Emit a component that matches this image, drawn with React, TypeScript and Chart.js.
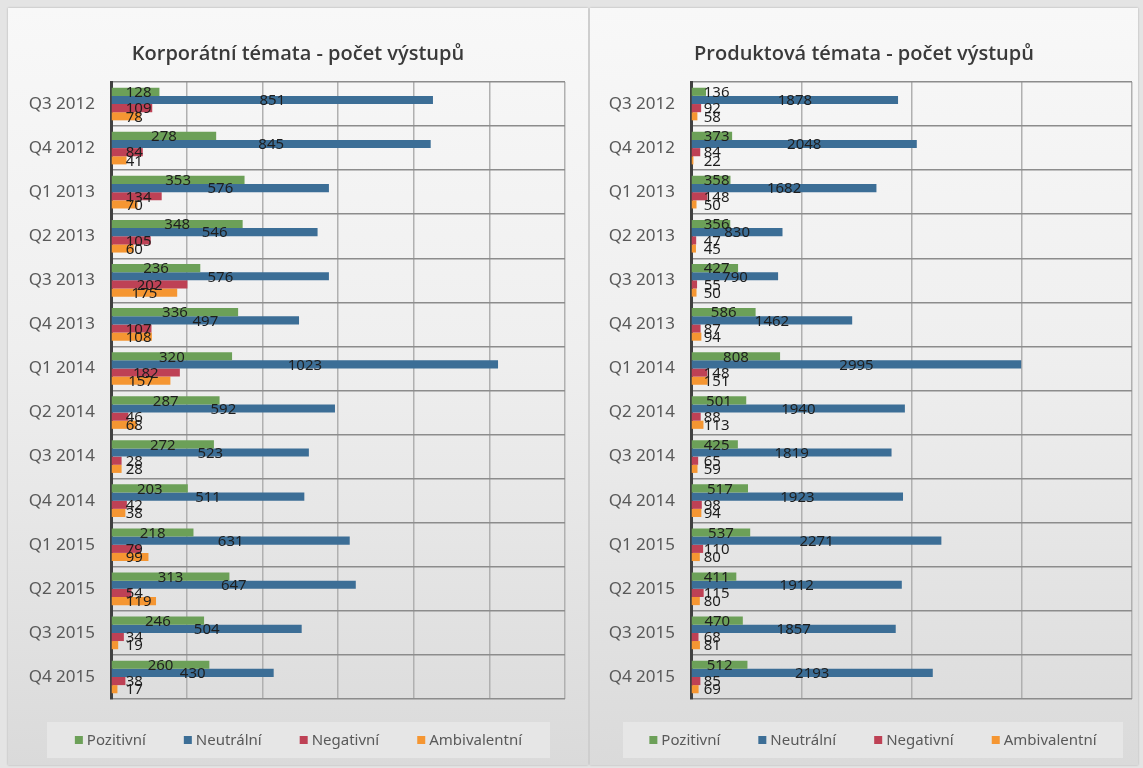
import React, { useEffect, useRef } from "react";
import Chart from "chart.js/auto";

const categories = [
  "Q3 2012", "Q4 2012", "Q1 2013", "Q2 2013", "Q3 2013", "Q4 2013", "Q1 2014",
  "Q2 2014", "Q3 2014", "Q4 2014", "Q1 2015", "Q2 2015", "Q3 2015", "Q4 2015",
];
const seriesNames = ["Pozitivní", "Neutrální", "Negativní", "Ambivalentní"];

const corpPositive = [128, 278, 353, 348, 236, 336, 320, 287, 272, 203, 218, 313, 246, 260];
const corpNeutral = [851, 845, 576, 546, 576, 497, 1023, 592, 523, 511, 631, 647, 504, 430];
const corpNegative = [109, 84, 134, 105, 202, 107, 182, 46, 28, 42, 79, 54, 34, 38];
const corpAmbivalent = [78, 41, 70, 60, 175, 108, 157, 68, 28, 38, 99, 119, 19, 17];

const prodPositive = [136, 373, 358, 356, 427, 586, 808, 501, 425, 517, 537, 411, 470, 512];
const prodNeutral = [1878, 2048, 1682, 830, 790, 1462, 2995, 1940, 1819, 1923, 2271, 1912, 1857, 2193];
const prodNegative = [92, 84, 148, 47, 55, 87, 148, 88, 65, 98, 110, 115, 68, 85];
const prodAmbivalent = [58, 22, 50, 45, 50, 94, 151, 113, 59, 94, 80, 80, 81, 69];

const colors = ["#6ca058", "#3c6e96", "#be4155", "#f59632"];

const FONT = "'Noto Sans', 'Open Sans', sans-serif";

type PanelProps = {
  title: string;
  series: number[][];
  max: number;
  step: number;
  left: number;
  width: number;
  yAxisWidth: number;
  padRight: number;
  labelInset: number;
  legendBox: [number, number];
};

function Panel(p: PanelProps) {
  const ref = useRef<HTMLCanvasElement>(null);
  useEffect(() => {
    const canvas = ref.current!;
    const H = 757;
    const panelPlugin = {
      id: "panelDecor",
      afterDatasetsDraw(chart: any) {
        const ctx = chart.ctx as CanvasRenderingContext2D;
        ctx.save();
        ctx.font = `15px ${FONT}`;
        ctx.fillStyle = "#1e1e1e";
        ctx.textAlign = "left";
        ctx.textBaseline = "middle";
        chart.data.datasets.forEach((_d: any, di: number) => {
          const meta = chart.getDatasetMeta(di);
          meta.data.forEach((el: any, i: number) => {
            const txt = String(chart.data.datasets[di].data[i]);
            const w = ctx.measureText(txt).width;
            const cx = (el.x + el.base) / 2;
            const lx = Math.max(cx - w / 2, el.base + p.labelInset);
            ctx.fillText(txt, lx, el.y + 1);
          });
        });
        ctx.restore();
      },
      afterDraw(chart: any) {
        const ctx = chart.ctx as CanvasRenderingContext2D;
        const W = chart.width;
        ctx.save();
        // title
        ctx.font = `600 20px 'Open Sans', ${FONT}`;
        ctx.fillStyle = "#3a3a3a";
        ctx.textAlign = "center";
        ctx.textBaseline = "alphabetic";
        ctx.fillText(p.title, W / 2, 52);
        // legend box
        const [bx0, bx1] = p.legendBox;
        const by0 = 714, by1 = 750;
        ctx.fillStyle = "#e6e6e6";
        ctx.fillRect(bx0, by0, bx1 - bx0, by1 - by0);
        ctx.font = `15px ${FONT}`;
        const sq = 8, gapSq = 4, gapItem = 38;
        const widths = seriesNames.map((n) => sq + gapSq + ctx.measureText(n).width);
        const total = widths.reduce((a, b) => a + b, 0) + gapItem * (seriesNames.length - 1);
        let x = (bx0 + bx1) / 2 - total / 2;
        const cy = (by0 + by1) / 2;
        ctx.textAlign = "left";
        ctx.textBaseline = "middle";
        seriesNames.forEach((n, i) => {
          ctx.fillStyle = colors[i];
          ctx.fillRect(x, cy - sq / 2, sq, sq);
          ctx.fillStyle = "#595959";
          ctx.fillText(n, x + sq + gapSq, cy + 1);
          x += widths[i] + gapItem;
        });
        ctx.restore();
      },
    };
    const chart = new Chart(canvas, {
      type: "bar",
      data: {
        labels: categories,
        datasets: seriesNames.map((n, i) => ({
          label: n,
          data: p.series[i],
          backgroundColor: colors[i],
          borderWidth: 0,
          categoryPercentage: 0.74,
          barPercentage: 1.0,
        })),
      },
      options: {
        indexAxis: "y",
        animation: false,
        responsive: false,
        maintainAspectRatio: false,
        layout: { padding: { top: 74, bottom: H - 691, left: 0, right: p.padRight } },
        plugins: {
          legend: { display: false },
          title: { display: false },
          tooltip: { enabled: false },
        },
        scales: {
          x: {
            min: 0,
            max: p.max,
            ticks: { display: false, stepSize: p.step },
            grid: { color: "#b0b0b0", lineWidth: 1.5, drawTicks: false },
            border: { display: false },
          },
          y: {
            ticks: { color: "#595959", font: { family: FONT, size: 17 }, padding: 16 },
            grid: { color: "#8c8c8c", lineWidth: 1.5, drawTicks: false, offset: true },
            border: { color: "#404040", width: 3 },
            afterFit(scale: any) {
              scale.width = p.yAxisWidth;
            },
          },
        },
      },
      plugins: [panelPlugin],
    } as any);
    return () => chart.destroy();
  }, []);
  return (
    <div
      style={{
        position: "absolute",
        left: p.left,
        top: 8,
        width: p.width,
        height: 757,
        background: "linear-gradient(#f8f8f8 0%, #efefef 45%, #dadada 100%)",
        boxShadow: "0 0 2px rgba(0,0,0,0.25)",
      }}
    >
      <canvas ref={ref} width={p.width} height={757} style={{ display: "block" }} />
    </div>
  );
}

export default function App() {
  return (
    <div
      style={{
        position: "fixed",
        left: 0,
        top: 0,
        width: 1143,
        height: 768,
        background: "#e4e4e4",
        overflow: "hidden",
      }}
    >
      <Panel
        title="Korporátní témata - počet výstupů"
        series={[corpPositive, corpNeutral, corpNegative, corpAmbivalent]}
        max={1200}
        step={200}
        left={8}
        width={580}
        yAxisWidth={103}
        padRight={23}
        labelInset={14}
        legendBox={[39, 542]}
      />
      <Panel
        title="Produktová témata - počet výstupů"
        series={[prodPositive, prodNeutral, prodNegative, prodAmbivalent]}
        max={4000}
        step={1000}
        left={590}
        width={548}
        yAxisWidth={101}
        padRight={6}
        labelInset={12}
        legendBox={[33, 533]}
      />
    </div>
  );
}
